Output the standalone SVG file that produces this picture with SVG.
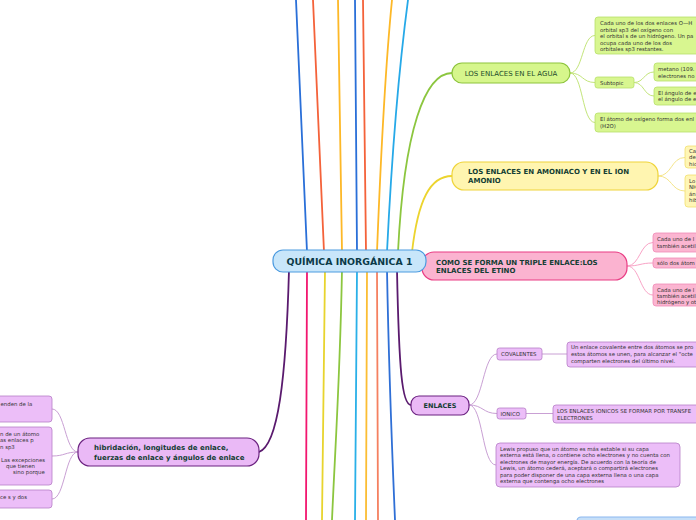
<svg xmlns="http://www.w3.org/2000/svg" width="696" height="520" viewBox="0 0 696 520">
<style>
text{font-family:"DejaVu Sans","Liberation Sans",sans-serif}
.main{fill:none;stroke-width:1.8;stroke-linecap:round}
.sub{fill:none;stroke-width:1}
.hd{font-weight:bold;font-size:7px;fill:#133d33}
.t{font-size:5.4px;fill:#333}
.gN{fill:#d6f68c;stroke:#8dc43c;stroke-width:1.2}
.gC{fill:#d8f690;stroke:#b7e06a;stroke-width:0.8}
.yN{fill:#fff5b0;stroke:#efd43a;stroke-width:1.2}
.yC{fill:#fff6b6;stroke:#f3df6e;stroke-width:0.8}
.pN{fill:#fbb3d0;stroke:#e93d84;stroke-width:1.2}
.pC{fill:#fbb5d1;stroke:#f08ab6;stroke-width:0.8}
.vN{fill:#eab9f6;stroke:#6b2280;stroke-width:1.2}
.vC{fill:#ecbef8;stroke:#b67dc6;stroke-width:0.8}
</style>
<rect width="696" height="520" fill="#ffffff"/>
<g id="connectors">
  <path class="main" stroke="#2a6fd8" d="M307,252 C303,150 299,60 296,0"/>
  <path class="main" stroke="#f4623a" d="M324,252 C320,150 316,60 313,0"/>
  <path class="main" stroke="#fdb827" d="M342,252 C341,150 339,60 338,0"/>
  <path class="main" stroke="#2a6fd8" d="M357,252 C356,150 355,60 355,0"/>
  <path class="main" stroke="#f4623a" d="M366,252 C365,150 364,60 363,0"/>
  <path class="main" stroke="#fdb827" d="M377,252 C381,150 386,60 392,0"/>
  <path class="main" stroke="#26a9e8" d="M387,252 C392,150 400,60 408,0"/>
  <path class="main" stroke="#8cc63f" d="M398,252 C404,130 425,73 452,73"/>
  <path class="main" stroke="#ecd42e" d="M412,252 C418,200 430,176 452,176"/>
  <path class="main" stroke="#5a1a6e" d="M289,270 C286,380 278,445 259,452"/>
  <path class="main" stroke="#f2166f" d="M307,270 C307,380 306,450 306,520"/>
  <path class="main" stroke="#e8d42e" d="M325,270 C324,380 323,450 322,520"/>
  <path class="main" stroke="#8cc63f" d="M342,270 C340,380 335,450 332,520"/>
  <path class="main" stroke="#2ab0e8" d="M357,270 C356,380 355,450 355,520"/>
  <path class="main" stroke="#fbbd33" d="M367,270 C367,380 366,450 366,520"/>
  <path class="main" stroke="#f58060" d="M377,270 C377,380 378,450 378,520"/>
  <path class="main" stroke="#2f6fd6" d="M387,270 C389,380 392,450 395,520"/>
  <path class="main" stroke="#5a1a6e" d="M397,270 C399,370 402,405 411,405"/>
  <g stroke="#c3e57a">
    <path class="sub" d="M570,73 C583,73 582,35.5 595,35.5"/>
    <path class="sub" d="M570,73 C583,73 582,82.5 595,82.5"/>
    <path class="sub" d="M570,73 C583,73 582,122.5 595,122.5"/>
    <path class="sub" d="M634,82.5 C644,82.5 644,72 654,72"/>
    <path class="sub" d="M634,82.5 C644,82.5 644,96 654,96"/>
  </g>
  <g stroke="#f5e58a">
    <path class="sub" d="M658,176 C672,176 671,157.5 685,157.5"/>
    <path class="sub" d="M658,176 C672,176 671,191 685,191"/>
  </g>
  <g stroke="#f9a3c6">
    <path class="sub" d="M627,266 C640,266 640,242.5 653,242.5"/>
    <path class="sub" d="M627,266 C640,266 640,263 653,263"/>
    <path class="sub" d="M627,266 C640,266 640,295 653,295"/>
  </g>
  <g stroke="#c9a0d4">
    <path class="sub" d="M469,405 C483,405 483,354 497,354"/>
    <path class="sub" d="M469,405 C483,405 483,413.5 497,413.5"/>
    <path class="sub" d="M469,405 C483,405 482,465 496,465"/>
    <path class="sub" d="M542,354 L567,354"/>
    <path class="sub" d="M526,413.5 L553,413.5"/>
    <path class="sub" d="M78,452 C65,452 65,409 52,409"/>
    <path class="sub" d="M78,452 C65,452 65,456 52,456"/>
    <path class="sub" d="M78,452 C65,452 65,499 52,499"/>
  </g>
</g>
<g id="agua">
  <rect class="gN" x="452" y="63" width="118" height="20" rx="10"/>
  <text x="511" y="75.5" font-size="7" fill="#1d4a2a" text-anchor="middle">LOS ENLACES EN EL AGUA</text>
</g>
<g id="agua-c1">
  <rect class="gC" x="595" y="17" width="130" height="37" rx="3"/>
  <text class="t" x="600"><tspan x="600" y="25.3">Cada uno de los dos enlaces O—H</tspan><tspan x="600" y="31.7">orbital sp3 del oxígeno con</tspan><tspan x="600" y="38.1">el orbital s de un hidrógeno. Un pa</tspan><tspan x="600" y="44.5">ocupa cada uno de los dos</tspan><tspan x="600" y="50.9">orbitales sp3 restantes.</tspan></text>
</g>
<g id="agua-sub">
  <rect class="gC" x="595" y="77" width="39" height="11" rx="2.5"/>
  <text class="t" x="600" y="84.6">Subtopic</text>
</g>
<g id="agua-sub-c1">
  <rect class="gC" x="654" y="63" width="70" height="18" rx="3"/>
  <text class="t"><tspan x="658" y="71">metano (109.</tspan><tspan x="658" y="77.6">electrones no</tspan></text>
</g>
<g id="agua-sub-c2">
  <rect class="gC" x="654" y="87" width="70" height="18" rx="3"/>
  <text class="t"><tspan x="658" y="94.6">El ángulo de e</tspan><tspan x="658" y="101.2">el ángulo de e</tspan></text>
</g>
<g id="agua-c3">
  <rect class="gC" x="595" y="113" width="130" height="19" rx="3"/>
  <text class="t"><tspan x="600" y="121.3">El átomo de oxígeno forma dos enl</tspan><tspan x="600" y="128">(H2O)</tspan></text>
</g>
<g id="amoniaco">
  <rect class="yN" x="452" y="162" width="206" height="28" rx="12"/>
  <text class="hd"><tspan x="468" y="174.3">LOS ENLACES EN AMONIACO Y EN EL ION</tspan><tspan x="468" y="183.3">AMONIO</tspan></text>
</g>
<g id="amoniaco-c1">
  <rect class="yC" x="685" y="146" width="40" height="22" rx="3"/>
  <text class="t"><tspan x="689" y="153">Ca</tspan><tspan x="689" y="159.4">de</tspan><tspan x="689" y="165.8">hic</tspan></text>
</g>
<g id="amoniaco-c2">
  <rect class="yC" x="685" y="175" width="40" height="32" rx="3"/>
  <text class="t"><tspan x="689" y="183">Lo</tspan><tspan x="689" y="189.4">NH</tspan><tspan x="689" y="195.8">án</tspan><tspan x="689" y="202.2">hib</tspan></text>
</g>
<g id="etino">
  <rect class="pN" x="422" y="252" width="205" height="28" rx="12"/>
  <text class="hd"><tspan x="436" y="265.2">COMO SE FORMA UN TRIPLE ENLACE:LOS</tspan><tspan x="436" y="273.2">ENLACES DEL ETINO</tspan></text>
</g>
<g id="etino-c1">
  <rect class="pC" x="653" y="233" width="70" height="19" rx="3"/>
  <text class="t"><tspan x="657" y="241.3">Cada uno de l</tspan><tspan x="657" y="247.7">también acetil</tspan></text>
</g>
<g id="etino-c2">
  <rect class="pC" x="653" y="258" width="70" height="10" rx="3"/>
  <text class="t" x="657" y="265">sólo dos átom</text>
</g>
<g id="etino-c3">
  <rect class="pC" x="653" y="284" width="70" height="22" rx="3"/>
  <text class="t"><tspan x="657" y="291.5">Cada uno de l</tspan><tspan x="657" y="297.9">también acetil</tspan><tspan x="657" y="304.3">hidrógeno y ot</tspan></text>
</g>
<g id="central">
  <rect x="273" y="250" width="153" height="22" rx="10" fill="#c8e6fa" stroke="#4c9be0" stroke-width="1.2"/>
  <text x="349.5" y="264.5" font-size="9.4" font-weight="bold" fill="#0b3a48" text-anchor="middle">QUÍMICA INORGÁNICA 1</text>
</g>
<g id="enlaces">
  <rect class="vN" x="411" y="396" width="58" height="19" rx="8"/>
  <text x="440" y="408" font-size="6.5" font-weight="bold" fill="#133d33" text-anchor="middle">ENLACES</text>
</g>
<g id="covalentes">
  <rect class="vC" x="497" y="348" width="45" height="12" rx="2.5"/>
  <text class="t" x="501" y="356.3">COVALENTES</text>
</g>
<g id="covalentes-c">
  <rect class="vC" x="567" y="342" width="160" height="25" rx="3"/>
  <text class="t"><tspan x="571" y="349.2">Un enlace covalente entre dos átomos se pro</tspan><tspan x="571" y="356.2">estos átomos se unen, para alcanzar el "octe</tspan><tspan x="571" y="363.2">comparten electrones del último nivel.</tspan></text>
</g>
<g id="ionico">
  <rect class="vC" x="497" y="408" width="29" height="11" rx="2.5"/>
  <text class="t" x="500.5" y="415.8">IONICO</text>
</g>
<g id="ionico-c">
  <rect class="vC" x="553" y="405" width="170" height="18" rx="3"/>
  <text class="t"><tspan x="557" y="413">LOS ENLACES IONICOS SE FORMAR POR TRANSFE</tspan><tspan x="557" y="420">ELECTRONES</tspan></text>
</g>
<g id="lewis">
  <rect class="vC" x="496" y="443" width="184" height="44" rx="4"/>
  <text class="t"><tspan x="500" y="451">Lewis propuso que un átomo es más estable si su capa</tspan><tspan x="500" y="457.4">externa está llena, o contiene ocho electrones y no cuenta con</tspan><tspan x="500" y="463.8">electrones de mayor energía. De acuerdo con la teoría de</tspan><tspan x="500" y="470.2">Lewis, un átomo cederá, aceptará o compartirá electrones</tspan><tspan x="500" y="476.6">para poder disponer de una capa externa llena o una capa</tspan><tspan x="500" y="483">externa que contenga ocho electrones</tspan></text>
</g>
<g id="hibridacion">
  <rect class="vN" x="78" y="438" width="181" height="28" rx="12"/>
  <text class="hd"><tspan x="94" y="450">hibridación, longitudes de enlace,</tspan><tspan x="94" y="460">fuerzas de enlace y ángulos de enlace</tspan></text>
</g>
<g id="hib-c1">
  <rect class="vC" x="-10" y="396" width="62" height="26" rx="3"/>
  <text class="t" x="0.5" y="405.8">enden de la</text>
</g>
<g id="hib-c2">
  <rect class="vC" x="-10" y="427" width="62" height="58" rx="3"/>
  <text class="t"><tspan x="0" y="436">n de un átomo</tspan><tspan x="0" y="442.4">as enlaces p</tspan><tspan x="0" y="448.8">n sp3</tspan><tspan x="1" y="461.6">Las excepciones</tspan><tspan x="6" y="468">que tienen</tspan><tspan x="13" y="474.4">sino porque</tspan></text>
</g>
<g id="hib-c3">
  <rect class="vC" x="-10" y="490" width="62" height="18" rx="3"/>
  <text class="t" x="0" y="499">ce s y dos</text>
</g>
<g id="bottom-node">
  <rect x="577" y="517" width="140" height="20" rx="4" fill="#c6dff8" stroke="#8cb8ef" stroke-width="1.2"/>
</g>
</svg>
